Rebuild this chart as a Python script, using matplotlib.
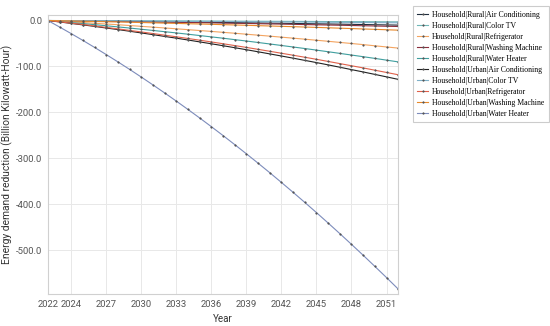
import matplotlib
matplotlib.use('Agg')
from matplotlib import pyplot as plt
from matplotlib.ticker import FormatStrFormatter

years = list(range(2022, 2053))

labels = [
    'Household|Rural|Air Conditioning',
    'Household|Rural|Color TV',
    'Household|Rural|Refrigerator',
    'Household|Rural|Washing Machine',
    'Household|Rural|Water Heater',
    'Household|Urban|Air Conditioning',
    'Household|Urban|Color TV',
    'Household|Urban|Refrigerator',
    'Household|Urban|Washing Machine',
    'Household|Urban|Water Heater',
]

colors = ['#1f2d3d', '#6fb7b7', '#f4a460', '#8b2e3c', '#3f9f9f',
          '#222222', '#7fb0c8', '#e0604a', '#e8892a', '#7d8cbb']

rural_ac = [0, 0.2, 0.5, 0.7, 1.0, 1.3, 1.5, 1.8, 2.1, 2.4, 2.7, 3.0, 3.3, 3.6, 4.0, 4.3,
            4.6, 5.0, 5.3, 5.7, 6.0, 6.4, 6.8, 7.2, 7.5, 7.9, 8.3, 8.7, 9.2, 9.6, 10.0]
rural_tv = [0, 0.1, 0.1, 0.2, 0.3, 0.4, 0.5, 0.5, 0.6, 0.7, 0.8, 0.9, 1.0, 1.1, 1.2, 1.3,
            1.4, 1.5, 1.6, 1.7, 1.8, 1.9, 2.0, 2.1, 2.3, 2.4, 2.5, 2.6, 2.7, 2.9, 3.0]
rural_ref = [0, 1.4, 2.9, 4.4, 6.0, 7.6, 9.2, 10.9, 12.7, 14.4, 16.2, 18.0, 19.9, 21.8, 23.7, 25.7,
             27.7, 29.8, 31.9, 34.0, 36.2, 38.4, 40.6, 42.9, 45.2, 47.6, 50.0, 52.4, 55.0, 57.5, 60.0]
rural_wm = [0, 0.3, 0.6, 1.0, 1.3, 1.7, 2.0, 2.4, 2.7, 3.1, 3.5, 3.9, 4.3, 4.7, 5.1, 5.6,
            6.0, 6.4, 6.9, 7.4, 7.8, 8.3, 8.8, 9.3, 9.8, 10.3, 10.8, 11.4, 11.9, 12.5, 13.0]
rural_wh = [0, 2.2, 4.4, 6.7, 9.0, 11.4, 13.9, 16.4, 19.0, 21.6, 24.3, 27.0, 29.8, 32.7, 35.6, 38.5,
            41.6, 44.6, 47.8, 51.0, 54.3, 57.6, 60.9, 64.4, 67.9, 71.5, 75.1, 78.7, 82.4, 86.2, 90.0]
urban_ac = [0, 3.1, 6.3, 9.5, 12.8, 16.3, 19.7, 23.3, 27.0, 30.7, 34.6, 38.4, 42.4, 46.5, 50.6, 54.8,
            59.1, 63.5, 68.0, 72.6, 77.2, 81.9, 86.7, 91.5, 96.5, 101.6, 106.8, 111.9, 117.2, 122.6, 128.0]
urban_tv = [0, 0.1, 0.2, 0.4, 0.5, 0.6, 0.8, 0.9, 1.1, 1.2, 1.4, 1.5, 1.7, 1.8, 2.0, 2.1,
            2.3, 2.5, 2.7, 2.8, 3.0, 3.2, 3.4, 3.6, 3.8, 4.0, 4.2, 4.4, 4.6, 4.8, 5.0]
urban_ref = [0, 2.8, 5.8, 8.7, 11.8, 15.0, 18.2, 21.5, 24.9, 28.3, 31.9, 35.4, 39.1, 42.8, 46.6, 50.5,
             54.5, 58.5, 62.7, 66.9, 71.2, 75.5, 79.9, 84.4, 89.0, 93.7, 98.4, 103.1, 108.1, 113.0, 118.0]
urban_wm = [0, 0.5, 1.0, 1.6, 2.1, 2.7, 3.2, 3.8, 4.4, 5.0, 5.7, 6.3, 7.0, 7.6, 8.3, 9.0,
            9.7, 10.4, 11.2, 11.9, 12.7, 13.4, 14.2, 15.0, 15.8, 16.7, 17.5, 18.4, 19.2, 20.1, 21.0]
urban_wh = [0, 14.1, 28.5, 43.3, 58.5, 74.1, 90.0, 106.3, 123.0, 140.1, 157.5, 175.3, 193.5, 212.0, 230.9, 250.2,
            269.9, 289.9, 310.3, 331.0, 352.2, 373.7, 395.6, 417.8, 440.5, 463.5, 486.9, 510.6, 534.8, 559.2, 584.1]

series = [rural_ac, rural_tv, rural_ref, rural_wm, rural_wh,
          urban_ac, urban_tv, urban_ref, urban_wm, urban_wh]

xticks = [2022, 2024, 2027, 2030, 2033, 2036, 2039, 2042, 2045, 2048, 2051]
yticks = [0, -100, -200, -300, -400, -500]

plt.rcParams['font.family'] = ['Roboto', 'DejaVu Sans']

fig = plt.figure(figsize=(5.5, 3.26), dpi=100)
ax = fig.add_axes([0.087, 0.098, 0.637, 0.856])

for vals, c, lab in zip(series, colors, labels):
    ax.plot(years, [-v for v in vals], color=c, lw=0.8, marker='o', ms=1.2,
            mfc='#555555', mec='#555555', mew=0.3, label=lab)

ax.set_xlim(2022, 2052)
ax.set_ylim(-595, 12)
ax.set_xticks(xticks)
ax.set_yticks(yticks)
ax.yaxis.set_major_formatter(FormatStrFormatter('%.1f'))
ax.grid(True, color='#e8e8e8', lw=0.7)
ax.tick_params(length=0, labelsize=6.8, colors='#555555', pad=4)
for s in ax.spines.values():
    s.set_color('#d0d0d0')
    s.set_linewidth(0.8)
ax.set_xlabel('Year', fontsize=7, color='#333333', labelpad=4)
ax.set_ylabel('Energy demand reduction (Billion Kilowatt-Hour)', fontsize=7.4,
              color='#333333', labelpad=2)

leg = fig.legend(loc='upper left', bbox_to_anchor=(0.743, 0.992),
                 prop={'family': 'Liberation Serif', 'size': 5.6},
                 frameon=True, fancybox=False, edgecolor='#c0c0c0',
                 handlelength=1.4, handletextpad=0.5, labelspacing=0.38,
                 borderpad=0.6)
leg.get_frame().set_linewidth(0.8)

fig.savefig('out.png', dpi=100)
